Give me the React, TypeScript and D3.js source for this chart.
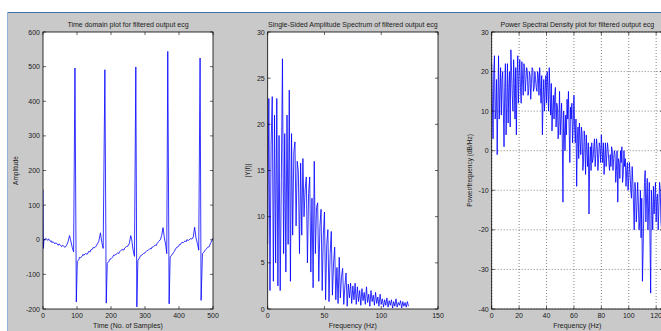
import React from "react";
import * as d3 from "d3";

// ECG: [sample index, amplitude]
const ecgPoints: [number, number][] = [
  [0, 145], [1, -25], [3, 2], [6, 0], [8, 4], [10, 3], [14, -2], [16, 2], [18, 1], [22, -5], [24, -3], [26, -8], [30, -6],
  [35, -12], [37, -9], [40, -10], [45, -16], [47, -12], [50, -14], [55, -20], [57, -16], [60, -18], [65, -22], [70, -15], [74, -5],
  [78, 12], [81, 0], [86, -22], [90, -35], [94, 496], [98, -180], [101, -62], [105, -58], [108, -50], [110, -52],
  [115, -48], [118, -42], [120, -45], [125, -40], [130, -42], [135, -33], [138, -36], [140, -30], [145, -28], [148, -22], [150, -24],
  [155, -20], [160, -12], [164, -5], [169, 20], [173, -8], [177, -25], [182, 491], [186, -183],
  [189, -68], [194, -62], [197, -56], [200, -55], [205, -50], [208, -44], [210, -45], [215, -42], [220, -38], [223, -40], [225, -35],
  [230, -30], [235, -28], [238, -30], [240, -24], [245, -20], [250, -18], [254, -10], [258, 12], [261, 0],
  [265, -30], [269, -48], [273, 499], [276, -194], [279, -60], [284, -52], [287, -46], [290, -45], [295, -40],
  [300, -38], [303, -34], [305, -32], [310, -30], [315, -25], [318, -27], [320, -22], [325, -20], [330, -15], [333, -17], [335, -12],
  [340, -5], [345, 0], [349, 12], [353, 35], [357, 5], [361, -15], [364, -40], [367, 544],
  [371, -185], [374, -50], [378, -45], [383, -38], [386, -34], [388, -30], [393, -22], [398, -20], [401, -14], [403, -15],
  [408, -8], [413, -8], [418, -3], [421, -6], [423, 0], [428, -2], [433, 3], [438, 2], [442, 8], [446, 36],
  [450, 5], [454, -10], [458, -30], [462, 525], [465, -175], [469, -40], [474, -35], [477, -30], [479, -28],
  [484, -22], [489, -20], [492, -12], [494, -8], [498, 0], [500, 5],
];

// Single-sided amplitude spectrum, one value per 1 Hz starting at 0 Hz
const ampSpectrum: number[] = [
  7, 22.8, 2, 17.8, 23, 3, 21, 5, 22.8, 2.5,
  18.8, 2, 14, 27.1, 6, 19, 4, 21, 7, 23.7,
  3, 19, 8, 17, 18.1, 9, 16, 14.9, 6, 15.8,
  8, 16.3, 10, 13, 14.3, 5, 12.5, 14.3, 4, 12,
  2.3, 16, 6, 11, 11.5, 3, 9, 10.8, 2, 8,
  10.5, 1, 7, 8.6, 0.8, 6, 8.4, 1.5, 5, 6.7,
  1, 4.5, 0.6, 5.6, 1.2, 3.5, 4.4, 0.5, 2.5, 3.9,
  0.3, 2.7, 1.2, 2.8, 0.6, 2.5, 1, 2.8, 0.5, 2.4,
  0.8, 2, 0.4, 2.2, 0.9, 1.8, 0.5, 2.4, 0.7, 1.6,
  0.3, 2, 0.8, 1.5, 0.4, 1.8, 0.6, 1.3, 0.3, 1.6,
  0.5, 1.1, 0.2, 1, 0.4, 1.2, 0.2, 0.9, 0.4, 1,
  0.1, 0.8, 0.3, 1.1, 0.2, 0.7, 0.4, 0.9, 0.1, 0.8,
  0.3, 0.7, 0.2, 0.8, 0.3,
];

// Power spectral density (dB/Hz) at whole Hz: 0, 1, 2, ...
const psdWhole: number[] = [
  22, 3, 24, 10, -1, 24, 15, 9, 20, 1,
  22, 12, 7, 20, 25.5, 14, 23, 8, 4, 24,
  19, 16, 22.5, 14, 21, 18, 20, 15, 19, 17,
  20.5, 16, 18, 15, 19, 21, 12, 4, 18, 15,
  12, 16, 21, 9, 5, 14, 14, 6, 11, 7,
  4, 12, -13, 5, 9, 13, 15, -3, 8, 2,
  14, 2, -9, 6, 7, -1, 4, -3, 2, 4,
  -4, -16, 1, 2, -2, 3, -1, 1, -2, 1,
  4, -3, -6, 2, -1, 0, -5, -4, 0, -2,
  -1, -5, -13, -3, 0, 1, -6, -4, -9, -3,
  -7, -6, -12, -8, -20, -10, -14, -13, -18, -22,
  -33, -15, -5, -12, -20, -8, -36, -15, -9, -12,
  -18, -11, -14, -10, -20, -16,
];

// Power spectral density (dB/Hz) at half Hz: 0.5, 1.5, 2.5, ...
const psdHalf: number[] = [
  12, 20, 8, 18, 12, 8, 21, 18, 10, 16,
  4, 22, 16, 6, 20, 10, 17, 21, 19, 12,
  23, 12, 18, 22, 15, 21, 14, 20, 13, 21,
  15, 20, 16, 20, 14, 16, 19, 13, 10, 19,
  20, 10, 15, 17, 10, 8, 16, 12, 3, 15,
  8, 3, 10, 0, 4, 8, 6, 11, 12, 7,
  6, 8, 3, -2, 3, 6, -5, 5, -6, 0,
  2, -3, -5, -3, 1, -4, 3, -5, 2, -3,
  0, 2, -2, -4, 2, -3, -1, 1, -5, 0,
  -8, 0, -2, -7, -3, -8, 0, -2, -5, -10,
  -3, -10, -4, -14, -8, -18, -8, -20, -10, -12,
  -25, -8, -18, -7, -14, -22, -10, -20, -16, -8,
  -12, -20, -8, -18, -12,
];

const ecgXTicks = [0, 100, 200, 300, 400, 500];
const ecgYTicks = [-200, -100, 0, 100, 200, 300, 400, 500, 600];
const ampXTicks = [0, 50, 100, 150];
const ampYTicks = [0, 5, 10, 15, 20, 25, 30];
const psdXTicks = [0, 20, 40, 60, 80, 100, 120];
const psdYTicks = [-40, -30, -20, -10, 0, 10, 20, 30];

const FONT = "'Liberation Sans', Arial, Helvetica, sans-serif";
const TXT = "#1a1a1a";

type PanelProps = {
  id: string;
  left: number;
  right: number;
  top: number;
  bottom: number;
  xDomain: [number, number];
  yDomain: [number, number];
  xTicks: number[];
  yTicks: number[];
  title: string;
  xlabel: string;
  ylabel: string;
  ylabelX: number;
  grid?: boolean;
  points: [number, number][];
};

function Panel(p: PanelProps) {
  const x = d3.scaleLinear().domain(p.xDomain).range([p.left, p.right]);
  const y = d3.scaleLinear().domain(p.yDomain).range([p.bottom, p.top]);
  const line = d3
    .line<[number, number]>()
    .x((d) => x(d[0]))
    .y((d) => y(d[1]));
  const tl = 3;
  const cx = (p.left + p.right) / 2;
  const cy = (p.top + p.bottom) / 2;
  return (
    <g>
      <defs>
        <clipPath id={p.id}>
          <rect x={p.left} y={p.top} width={p.right - p.left} height={p.bottom - p.top} />
        </clipPath>
      </defs>
      <rect x={p.left} y={p.top} width={p.right - p.left} height={p.bottom - p.top} fill="#ffffff" />
      {p.grid &&
        p.xTicks.map((t) => (
          <line key={"gx" + t} x1={x(t)} x2={x(t)} y1={p.top} y2={p.bottom} stroke="#333" strokeWidth={0.6} strokeDasharray="1,2" />
        ))}
      {p.grid &&
        p.yTicks.map((t) => (
          <line key={"gy" + t} x1={p.left} x2={p.right} y1={y(t)} y2={y(t)} stroke="#333" strokeWidth={0.6} strokeDasharray="1,2" />
        ))}
      <path d={line(p.points) || ""} fill="none" stroke="#0000ff" strokeWidth={0.8} clipPath={`url(#${p.id})`} />
      <rect x={p.left} y={p.top} width={p.right - p.left} height={p.bottom - p.top} fill="none" stroke="#000" strokeWidth={0.8} />
      {p.xTicks.map((t) => (
        <g key={"xt" + t}>
          <line x1={x(t)} x2={x(t)} y1={p.bottom} y2={p.bottom - tl} stroke="#000" strokeWidth={0.6} />
          <line x1={x(t)} x2={x(t)} y1={p.top} y2={p.top + tl} stroke="#000" strokeWidth={0.6} />
          <text x={x(t)} y={318} textAnchor="middle" fontSize={7} fontFamily={FONT} fill={TXT}>
            {t}
          </text>
        </g>
      ))}
      {p.yTicks.map((t) => (
        <g key={"yt" + t}>
          <line x1={p.left} x2={p.left + tl} y1={y(t)} y2={y(t)} stroke="#000" strokeWidth={0.6} />
          <line x1={p.right} x2={p.right - tl} y1={y(t)} y2={y(t)} stroke="#000" strokeWidth={0.6} />
          <text x={p.left - 3} y={y(t) + 2.5} textAnchor="end" fontSize={7} fontFamily={FONT} fill={TXT}>
            {t}
          </text>
        </g>
      ))}
      <text x={cx} y={27} textAnchor="middle" fontSize={7} fontFamily={FONT} fill={TXT}>
        {p.title}
      </text>
      <text x={cx} y={327.5} textAnchor="middle" fontSize={7} fontFamily={FONT} fill={TXT}>
        {p.xlabel}
      </text>
      <text
        transform={`translate(${p.ylabelX},${cy}) rotate(-90)`}
        textAnchor="middle"
        fontSize={6.5}
        fontFamily={FONT}
        fill={TXT}
      >
        {p.ylabel}
      </text>
    </g>
  );
}

export default function App() {
  const ampPoints: [number, number][] = ampSpectrum.map((v, i) => [i, v]);
  const psdPoints: [number, number][] = [];
  psdWhole.forEach((v, i) => {
    psdPoints.push([i, v]);
    if (i < psdHalf.length) psdPoints.push([i + 0.5, psdHalf[i]]);
  });
  return (
    <svg
      width={661}
      height={331}
      style={{ position: "absolute", left: 0, top: 0, display: "block" }}
    >
      <rect x={0} y={0} width={661} height={331} fill="#ffffff" />
      <rect x={7} y={13} width={654} height={318} fill="#c9c9c9" />
      <line x1={7} x2={661} y1={12.5} y2={12.5} stroke="#3d6fb0" strokeWidth={1.2} />
      <line x1={7.5} x2={7.5} y1={12} y2={331} stroke="#8fb3e0" strokeWidth={1} />
      <Panel
        id="c1"
        left={43}
        right={213}
        top={32}
        bottom={309}
        xDomain={[0, 500]}
        yDomain={[-200, 600]}
        xTicks={ecgXTicks}
        yTicks={ecgYTicks}
        title="Time domain plot for filtered output ecg"
        xlabel="Time (No. of Samples)"
        ylabel="Amplitude"
        ylabelX={18}
        points={ecgPoints}
      />
      <Panel
        id="c2"
        left={267.7}
        right={438}
        top={32}
        bottom={309}
        xDomain={[0, 150]}
        yDomain={[0, 30]}
        xTicks={ampXTicks}
        yTicks={ampYTicks}
        title="Single-Sided Amplitude Spectrum of filtered output ecg"
        xlabel="Frequency (Hz)"
        ylabel="|Y(f)|"
        ylabelX={250}
        points={ampPoints}
      />
      <Panel
        id="c3"
        left={491.7}
        right={663}
        top={32}
        bottom={309}
        xDomain={[0, 125]}
        yDomain={[-40, 30]}
        xTicks={psdXTicks}
        yTicks={psdYTicks}
        title="Power Spectral Density plot for filtered output ecg"
        xlabel="Frequency (Hz)"
        ylabel="Power/frequency (dB/Hz)"
        ylabelX={472}
        grid
        points={psdPoints}
      />
    </svg>
  );
}
